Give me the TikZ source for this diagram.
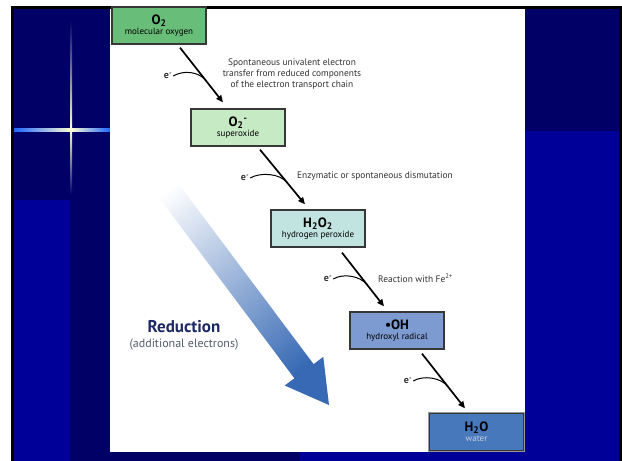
\documentclass[tikz,border=0pt]{standalone}
\usepackage{fontspec}
\setmainfont{PT Sans}
\usetikzlibrary{arrows.meta,calc}
\definecolor{navy}{RGB}{0,0,102}
\definecolor{brightblue}{RGB}{0,0,153}
\definecolor{flareblue}{RGB}{30,100,255}
\definecolor{flarecore}{RGB}{255,255,210}
\definecolor{boxedge}{RGB}{55,55,55}
\definecolor{boxhalo}{RGB}{150,150,150}
\definecolor{cOtwo}{RGB}{104,189,121}
\definecolor{cSup}{RGB}{198,234,196}
\definecolor{cPer}{RGB}{194,228,224}
\definecolor{cOH}{RGB}{125,155,208}
\definecolor{cWat}{RGB}{72,120,188}
\definecolor{labelgray}{RGB}{50,50,50}
\definecolor{waterlabel}{RGB}{195,205,225}
\definecolor{redblue}{RGB}{28,40,100}
\definecolor{addgray}{RGB}{85,90,110}
\definecolor{arrowblue}{RGB}{55,105,180}
\definecolor{arrowmid}{RGB}{150,178,218}
\newcommand\bxt[1]{{\fontsize{13.5}{15}\selectfont\bfseries #1}}
\newcommand\bxs[1]{{\fontsize{9}{11}\selectfont #1}}
\begin{document}
\begin{tikzpicture}[x=1pt,y=-1pt,
  box/.style={draw=boxedge, line width=1.3pt, preaction={draw=boxhalo,line width=2.8pt},
    minimum width=94pt, minimum height=37pt, inner sep=0pt, align=center, text=black},
  stepline/.style={line width=1.7pt, -{Triangle[length=7pt,width=6pt]}},
  ecurve/.style={line width=1pt},
  elabel/.style={font=\fontsize{10}{11}\selectfont\bfseries, text=labelgray, inner sep=1pt},
  note/.style={font=\fontsize{9.4}{11}\selectfont, text=labelgray, align=center, inner sep=0pt},
]
\useasboundingbox (0,0) rectangle (622,461);
% slide background
\fill[white] (0,0) rectangle (622,461);
\fill[black] (11,6) rectangle (622,461);
\fill[navy] (14,9) rectangle (619,461);
\fill[brightblue] (14,200) rectangle (70,461);
\fill[brightblue] (525,131) rectangle (619,461);
\fill[brightblue] (300,452) rectangle (525,461);
% lens flare
\shade[left color=flareblue, right color=flarecore] (14,128) rectangle (71,131);
\shade[left color=flarecore, right color=flareblue] (71,128) rectangle (110,131);
\shade[top color=navy, middle color=flareblue, bottom color=flarecore] (70,20) rectangle (72,129.5);
\shade[top color=flarecore, middle color=flareblue, bottom color=navy] (70,129.5) rectangle (72,195);
\fill[flarecore] (71,129.5) circle (2);
% white panel
\fill[white] (110,9) rectangle (525,452);
\fill[black] (110,6) rectangle (525,8);

% big reduction arrow
\shade[top color=white, middle color=arrowmid, bottom color=arrowblue, shading angle=36.5]
  (157.6,155.9) -- (313.6,364.1) -- (323.3,356.9) -- (329,405) -- (284.7,385.5)
  -- (294.4,378.3) -- (138.4,170.1) -- cycle;
\node[font=\fontsize{17}{19}\selectfont\bfseries, text=redblue, inner sep=0pt] (red) at (184,327) {Reduction};
\node[font=\fontsize{12}{14}\selectfont, text=addgray, inner sep=0pt] (addl) at (184,345) {(additional electrons)};

% boxes
\node[box, fill=cOtwo] (o2) at (159,25.5) {\bxt{O\textsubscript{2}}\\[-2pt]\bxs{molecular oxygen}};
\node[box, fill=cSup] (sup) at (238,127.5) {\bxt{O\textsubscript{2}\textsuperscript{-}}\\[-2pt]\bxs{superoxide}};
\node[box, fill=cPer] (per) at (318,228.5) {\bxt{H\textsubscript{2}O\textsubscript{2}}\\[-2pt]\bxs{hydrogen peroxide}};
\node[box, fill=cOH] (oh) at (397,330.5) {\bxt{•OH}\\[-2pt]\bxs{hydroxyl radical}};
\node[box, fill=cWat] (wat) at (476.5,432) {\bxt{H\textsubscript{2}O}\\[-2pt]\bxs{\color{waterlabel}water}};

\fill[black] (525,6) rectangle (622,9);

% step arrows
\coordinate (a1s) at ($(o2.south)+(21,3)$);
\coordinate (a1e) at ($(sup.north)+(-15,-6)$);
\coordinate (a2s) at ($(sup.south)+(22,3)$);
\coordinate (a2e) at ($(per.north)+(-13,-5)$);
\coordinate (a3s) at ($(per.south)+(24,5)$);
\coordinate (a3e) at ($(oh.north)+(-13,-5)$);
\coordinate (a4s) at ($(oh.south)+(25,4)$);
\coordinate (a4e) at ($(wat.north)+(-11.5,-4.5)$);
\draw[stepline] (a1s) -- (a1e);
\draw[stepline] (a2s) -- (a2e);
\draw[stepline] (a3s) -- (a3e);
\draw[stepline] (a4s) -- (a4e);

% electrons
\node[elabel] (e1) at (168,76) {e\textsuperscript{-}};
\node[elabel] (e2) at (245,178) {e\textsuperscript{-}};
\node[elabel] (e3) at (328,279) {e\textsuperscript{-}};
\node[elabel] (e4) at (408,381) {e\textsuperscript{-}};
\coordinate (j1) at ($(a1s)!0.6!(a1e)$);
\coordinate (j2) at ($(a2s)!0.6!(a2e)$);
\coordinate (j3) at ($(a3s)!0.6!(a3e)$);
\coordinate (j4) at ($(a4s)!0.6!(a4e)$);
\draw[ecurve] (e1.east) .. controls +(10,-6) and +(-7,-9) .. (j1);
\draw[ecurve] (e2.east) .. controls +(10,-6) and +(-7,-9) .. (j2);
\draw[ecurve] (e3.east) .. controls +(10,-6) and +(-7,-9) .. (j3);
\draw[ecurve] (e4.east) .. controls +(10,-6) and +(-7,-9) .. (j4);

% notes
\node[note] (n1) at (292,74) {Spontaneous univalent electron\\transfer from reduced components\\of the electron transport chain};
\node[note, anchor=west] (n2) at (297,176) {Enzymatic or spontaneous dismutation};
\node[note, anchor=west] (n3) at (378,278) {Reaction with Fe\textsuperscript{2+}};
\end{tikzpicture}
\end{document}
